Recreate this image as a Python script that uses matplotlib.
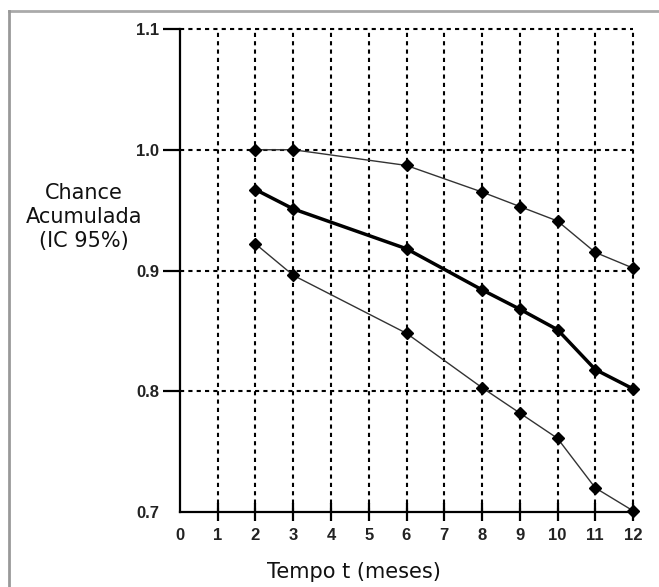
import matplotlib
matplotlib.use("Agg")
import matplotlib.pyplot as plt
from matplotlib.lines import Line2D

meses = [2, 3, 6, 8, 9, 10, 11, 12]
superior = [1.000, 1.000, 0.987, 0.965, 0.953, 0.941, 0.915, 0.902]
estimativa = [0.967, 0.951, 0.918, 0.884, 0.868, 0.851, 0.818, 0.802]
inferior = [0.922, 0.896, 0.848, 0.803, 0.782, 0.761, 0.720, 0.701]
xticks = list(range(0, 13))
yticks = [0.7, 0.8, 0.9, 1.0, 1.1]

fig = plt.figure(figsize=(6.59, 5.87), dpi=100)
ax = fig.add_axes([180/659, 1-512/587, 453/659, 483/587])

ax.set_xlim(0, 12)
ax.set_ylim(0.7, 1.1)

# grid
for x in xticks[1:]:
    ax.axvline(x, color="black", lw=1.5, ls=(0, (2, 2)), zorder=1, clip_on=False)
for y in yticks[1:]:
    ax.axhline(y, color="black", lw=1.5, ls=(0, (2, 2)), zorder=1, clip_on=False)

kw = dict(marker="D", mfc="black", mec="black", clip_on=False)
ax.plot(meses, superior, color="#333333", lw=1.0, ms=6, zorder=3, **kw)
ax.plot(meses, inferior, color="#333333", lw=1.0, ms=6, zorder=3, **kw)
ax.plot(meses, estimativa, color="black", lw=2.5, ms=6.5, zorder=4, **kw)

for s in ["top", "right"]:
    ax.spines[s].set_visible(False)
for s in ["left", "bottom"]:
    ax.spines[s].set_linewidth(1.6)
    ax.spines[s].set_zorder(5)

ax.set_xticks(xticks)
ax.set_xticklabels([str(v) for v in xticks])
ax.set_yticks(yticks)
ax.set_yticklabels(["%.1f" % v for v in yticks])
ax.tick_params(axis="x", direction="inout", length=13, width=1.6, pad=5, labelsize=12)
ax.tick_params(axis="y", direction="out", length=12, width=1.6, pad=3, labelsize=12)
for lab in ax.get_xticklabels() + ax.get_yticklabels():
    lab.set_fontfamily("Liberation Sans")
    lab.set_fontweight("bold")
    lab.set_color("#222222")
ax.xaxis.get_major_ticks()[0].tick1line.set_visible(False)
ax.xaxis.get_major_ticks()[0].tick2line.set_visible(False)
ax.yaxis.get_major_ticks()[0].tick1line.set_visible(False)
ax.set_facecolor("none")

fig.text(84/659, 1-217/587, "Chance\nAcumulada\n(IC 95%)", ha="center", va="center",
         fontsize=15, family="DejaVu Sans", linespacing=1.22, color="#111111")
fig.text(354/659, 1-572/587, "Tempo t (meses)", ha="center", va="center",
         fontsize=15, family="DejaVu Sans", color="#111111")

# outer frame (top and left edges)
fig.add_artist(Line2D([9/659, 1], [1-11/587, 1-11/587], color="#aaaaaa", lw=2, transform=fig.transFigure))
fig.add_artist(Line2D([9/659, 9/659], [0, 1-11/587], color="#999999", lw=2, transform=fig.transFigure))

fig.savefig("out.png", dpi=100)
